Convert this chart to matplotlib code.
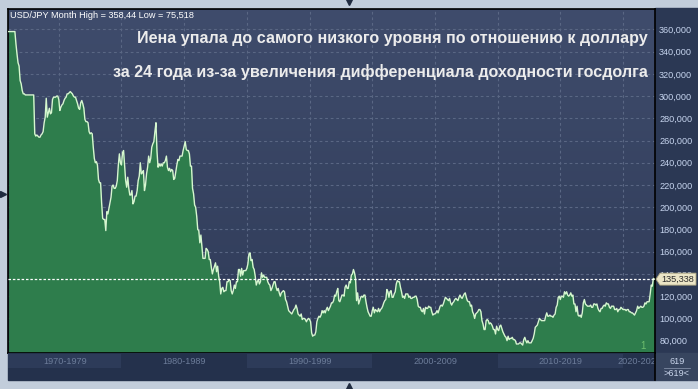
import numpy as np
import matplotlib
matplotlib.use("Agg")
import matplotlib.pyplot as plt
from matplotlib.patches import Rectangle, Polygon
from matplotlib.lines import Line2D
from matplotlib.colors import LinearSegmentedColormap

# ---------------- data (monthly USD/JPY, Jan 1971 .. Jul 2022) ----------------
jpy_1970s = [
    358, 358, 358, 358, 358, 358, 358, 347, 338, 330, 327, 314,   # 1971
    311, 305, 302, 302, 301, 301, 301, 301, 301, 301, 301, 301,   # 1972
    301, 266, 264, 265, 264, 263, 263, 265, 266, 268, 276, 281,   # 1973
    298, 281, 285, 289, 284, 285, 297, 299, 299, 299, 300, 300,   # 1974
    297, 287, 290, 292, 293, 296, 298, 299, 302, 302, 303, 304,   # 1975
    303, 302, 300, 299, 299, 296, 293, 289, 288, 294, 296, 293,   # 1976
    289, 279, 277, 277, 276, 268, 266, 267, 266, 254, 244, 240,   # 1977
    241, 238, 225, 222, 222, 204, 190, 189, 189, 179, 196, 194,   # 1978
    199, 204, 209, 219, 220, 217, 217, 219, 224, 238, 248, 240,   # 1979
]
jpy_1980s = [
    238, 249, 251, 237, 224, 218, 227, 217, 211, 211, 215, 203,   # 1980
    205, 210, 210, 215, 224, 228, 240, 230, 231, 233, 215, 220,   # 1981
    230, 236, 246, 240, 244, 254, 257, 259, 268, 276, 250, 236,   # 1982
    239, 237, 239, 237, 240, 240, 242, 246, 236, 233, 235, 232,   # 1983
    234, 233, 225, 226, 232, 238, 243, 242, 246, 246, 246, 251,   # 1984
    255, 259, 252, 251, 251, 248, 237, 237, 217, 212, 202, 200,   # 1985
    192, 180, 179, 168, 175, 165, 154, 154, 154, 163, 162, 160,   # 1986
    153, 153, 146, 140, 144, 147, 150, 142, 147, 138, 133, 122,   # 1987
    127, 128, 124, 125, 125, 133, 133, 135, 134, 125, 122, 125,   # 1988
    130, 127, 133, 133, 144, 144, 138, 145, 139, 143, 143, 143,   # 1989
]
jpy_1990s = [
    145, 149, 158, 159, 152, 153, 146, 144, 138, 130, 133, 135,   # 1990
    131, 133, 141, 137, 139, 137, 137, 137, 133, 131, 130, 125,   # 1991
    127, 130, 133, 133, 128, 125, 127, 123, 120, 123, 124, 125,   # 1992
    124, 117, 115, 111, 107, 106, 105, 104, 106, 108, 109, 112,   # 1993
    109, 104, 103, 102, 104, 99, 100, 100, 99, 97, 99, 100,       # 1994
    99, 97, 87, 84, 85, 85, 88, 97, 100, 102, 101, 103,           # 1995
    107, 105, 107, 105, 108, 110, 107, 109, 111, 114, 114, 116,   # 1996
    121, 120, 124, 127, 116, 115, 118, 121, 121, 120, 128, 130,   # 1997
    127, 127, 133, 132, 139, 140, 144, 141, 136, 116, 123, 113,   # 1998
    116, 119, 120, 119, 121, 121, 115, 110, 106, 104, 102, 102,   # 1999
]
jpy_2000s = [
    107, 110, 105, 108, 107, 106, 109, 106, 108, 109, 111, 114,   # 2000
    116, 117, 126, 124, 119, 124, 125, 119, 119, 122, 124, 131,   # 2001
    134, 133, 133, 128, 124, 119, 120, 118, 122, 122, 122, 119,   # 2002
    120, 118, 118, 119, 119, 120, 120, 117, 111, 110, 110, 107,   # 2003
    106, 109, 104, 110, 109, 109, 111, 110, 110, 106, 103, 104,   # 2004
    104, 105, 107, 105, 108, 111, 112, 111, 113, 116, 119, 118,   # 2005
    117, 116, 118, 114, 112, 114, 115, 117, 118, 117, 116, 119,   # 2006
    121, 119, 118, 120, 122, 123, 119, 116, 115, 115, 111, 112,   # 2007
    106, 104, 100, 104, 105, 106, 108, 108, 106, 98, 95, 90,      # 2008
    90, 98, 99, 98, 95, 96, 95, 93, 90, 90, 86, 93,               # 2009
]
jpy_2010s = [
    90, 89, 93, 94, 91, 88, 86, 84, 83, 80, 84, 81,              # 2010
    82, 82, 83, 81, 81, 80, 77, 77, 77, 78, 78, 77,               # 2011
    76, 81, 83, 80, 78, 80, 78, 78, 78, 80, 82, 86,               # 2012
    92, 93, 94, 97, 100, 99, 98, 98, 98, 98, 102, 105,            # 2013
    102, 102, 103, 102, 102, 101, 103, 104, 110, 112, 119, 120,   # 2014
    117, 120, 120, 119, 124, 122, 124, 121, 120, 121, 123, 120,   # 2015
    121, 113, 113, 106, 111, 103, 102, 103, 101, 105, 114, 117,   # 2016
    113, 112, 111, 111, 111, 112, 110, 110, 113, 113, 112, 113,   # 2017
    109, 107, 106, 109, 109, 111, 112, 111, 114, 113, 113, 110,   # 2018
    109, 111, 111, 111, 108, 108, 109, 106, 108, 108, 110, 109,   # 2019
]
jpy_2020s = [
    108, 108, 108, 107, 108, 108, 106, 106, 105, 105, 104, 103,   # 2020
    105, 107, 111, 109, 110, 111, 110, 110, 111, 114, 113, 115,   # 2021
    115, 115, 122, 130, 129, 136, 135.338,                        # 2022
]
start_year = 1971
decade_labels = ["1970-1979", "1980-1989", "1990-1999", "2000-2009", "2010-2019", "2020-2029"]
decade_starts = [1970, 1980, 1990, 2000, 2010, 2020]
y_ticks = [80, 100, 120, 140, 160, 180, 200, 220, 240, 260, 280, 300, 320, 340, 360]
y_tick_labels = [f"{v},000" for v in y_ticks]
last_value = 135.338
last_label = "135,338"
count_label = "619"
count_label2 = ">619<"
header = "USD/JPY Month High = 358,44 Low = 75,518"
title_lines = ["Иена упала до самого низкого уровня по отношению к доллару",
               "за 24 года из-за увеличения дифференциала доходности госдолга"]

values = np.array(jpy_1970s + jpy_1980s + jpy_1990s + jpy_2000s + jpy_2010s + jpy_2020s, dtype=float)
months = np.arange(len(values))

# ---------------- figure layout (pixel based) ----------------
W, H = 698, 389
fig = plt.figure(figsize=(W / 100, H / 100), dpi=100)
fig.patch.set_facecolor("#c2cddb")

def fx(x):
    return x / W

def fy(y):
    return 1 - y / H

L, R, T, B = 8, 655, 9, 353
BB = 380  # bottom of x-axis band

# panels behind axes
fig.add_artist(Rectangle((fx(R), fy(B)), fx(W) - fx(R), fy(T - 1) - fy(B),
                         transform=fig.transFigure, color="#2b3854", zorder=0))
fig.add_artist(Rectangle((fx(L), fy(BB)), fx(R) - fx(L), fy(B) - fy(BB),
                         transform=fig.transFigure, color="#24314c", zorder=0))
fig.add_artist(Rectangle((fx(R), fy(BB)), fx(W) - fx(R), fy(B) - fy(BB),
                         transform=fig.transFigure, color="#37455f", zorder=0))

ax = fig.add_axes([fx(L), fy(B), fx(R) - fx(L), fy(T) - fy(B)])
x0, x1 = -0.6, len(values) - 0.4
y0, y1 = 68.9, 378.3

# gradient background
bg = LinearSegmentedColormap.from_list("bg", ["#3f4c6c", "#2f3b58"])
ax.imshow(np.linspace(0, 1, 256).reshape(-1, 1), cmap=bg, extent=[0, 1, 0, 1],
          transform=ax.transAxes, aspect="auto", zorder=0)

# grid
grid_kw = dict(color="#5a6784", lw=0.8, ls=(0, (2.5, 2.5)), zorder=1)
for v in y_ticks:
    ax.axhline(v, **grid_kw)
for yr in range(1975, 2025, 5):
    ax.axvline((yr - start_year) * 12, **grid_kw)

# area
ax.fill_between(months, values, y0, color="#2e7d4c", lw=0, zorder=2)
ax.plot(months, values, color="#d6f7cf", lw=1.0, zorder=3)
ax.axhline(last_value, color="white", lw=0.9, ls=(0, (2, 1.5)), zorder=4)

ax.set_xlim(x0, x1)
ax.set_ylim(y0, y1)
ax.set_xticks([])
ax.yaxis.tick_right()
ax.set_yticks(y_ticks)
ax.set_yticklabels(y_tick_labels, fontsize=6.6, color="#c6d4ee", family="Liberation Sans")
ax.tick_params(axis="y", length=0, pad=3)
for s in ax.spines.values():
    s.set_color("black")
    s.set_linewidth(1.2)

ax.text(len(values) - 12, 70.5, "1", color="#6fbf6f", fontsize=7,
        family="Liberation Sans", ha="center", va="bottom", zorder=5)

# ---------------- bottom band with decade labels ----------------
axb = fig.add_axes([fx(L), fy(BB), fx(R) - fx(L), fy(B) - fy(BB)])
axb.set_xlim(x0, x1)
axb.set_ylim(0, 1)
axb.set_facecolor("#24314c")
axb.set_xticks([])
axb.set_yticks([])
for s in axb.spines.values():
    s.set_visible(False)
for i, (lab, d) in enumerate(zip(decade_labels, decade_starts)):
    a = max((d - start_year) * 12, x0)
    b = min((d + 10 - start_year) * 12, x1)
    if i % 2 == 0:
        axb.axvspan(a, b, ymin=0.44, ymax=0.97, color="#2d3b59", lw=0)
    axb.text((a + b) / 2, 0.7, lab, ha="center", va="center", fontsize=6.6,
             color="#6c7c99", family="Liberation Sans", clip_on=True)

# ---------------- texts ----------------
fig.text(fx(10), fy(15), header, fontsize=6.6, color="white", family="Liberation Sans",
         ha="left", va="center")
fig.text(fx(648), fy(38), title_lines[0], fontsize=11.65, color="#ececec",
         family="Liberation Sans", weight="bold", ha="right", va="center")
fig.text(fx(648), fy(72), title_lines[1], fontsize=11.65, color="#ececec",
         family="Liberation Sans", weight="bold", ha="right", va="center")

# last value tag
yl = ax.transData.transform((0, last_value))[1]
ypx = H - yl
tag = Polygon([(fx(656), fy(ypx)), (fx(660), fy(ypx - 6)), (fx(696), fy(ypx - 6)),
               (fx(696), fy(ypx + 6)), (fx(660), fy(ypx + 6))],
              closed=True, transform=fig.transFigure, facecolor="#ebe5c6",
              edgecolor="#a9a27e", lw=0.6, zorder=10)
fig.add_artist(tag)
fig.text(fx(678), fy(ypx), last_label, fontsize=6.6, color="#2b2b2b",
         family="Liberation Sans", ha="center", va="center", zorder=11)

# count box
fig.text(fx(677), fy(362), count_label, fontsize=6.6, color="#c8d4ea",
         family="Liberation Sans", ha="center", va="center")
fig.text(fx(677), fy(374), count_label2, fontsize=6.6, color="#c8d4ea",
         family="Liberation Sans", ha="center", va="center")
fig.add_artist(Line2D([fx(664), fx(690)], [fy(368), fy(368)], color="#7f8ca4", lw=0.6,
                      transform=fig.transFigure))
fig.add_artist(Line2D([fx(R), fx(R)], [fy(B), fy(BB)], color="black", lw=1.2,
                      transform=fig.transFigure))

# marker triangles
mk = dict(color="#1f2a3f", transform=fig.transFigure, markersize=5, lw=0)
fig.add_artist(Line2D([fx(349)], [fy(2)], marker="v", **mk))
fig.add_artist(Line2D([fx(349)], [fy(386)], marker="^", **mk))
fig.add_artist(Line2D([fx(3)], [fy(194)], marker=">", **mk))

fig.savefig("out.png", dpi=100, facecolor=fig.get_facecolor())
